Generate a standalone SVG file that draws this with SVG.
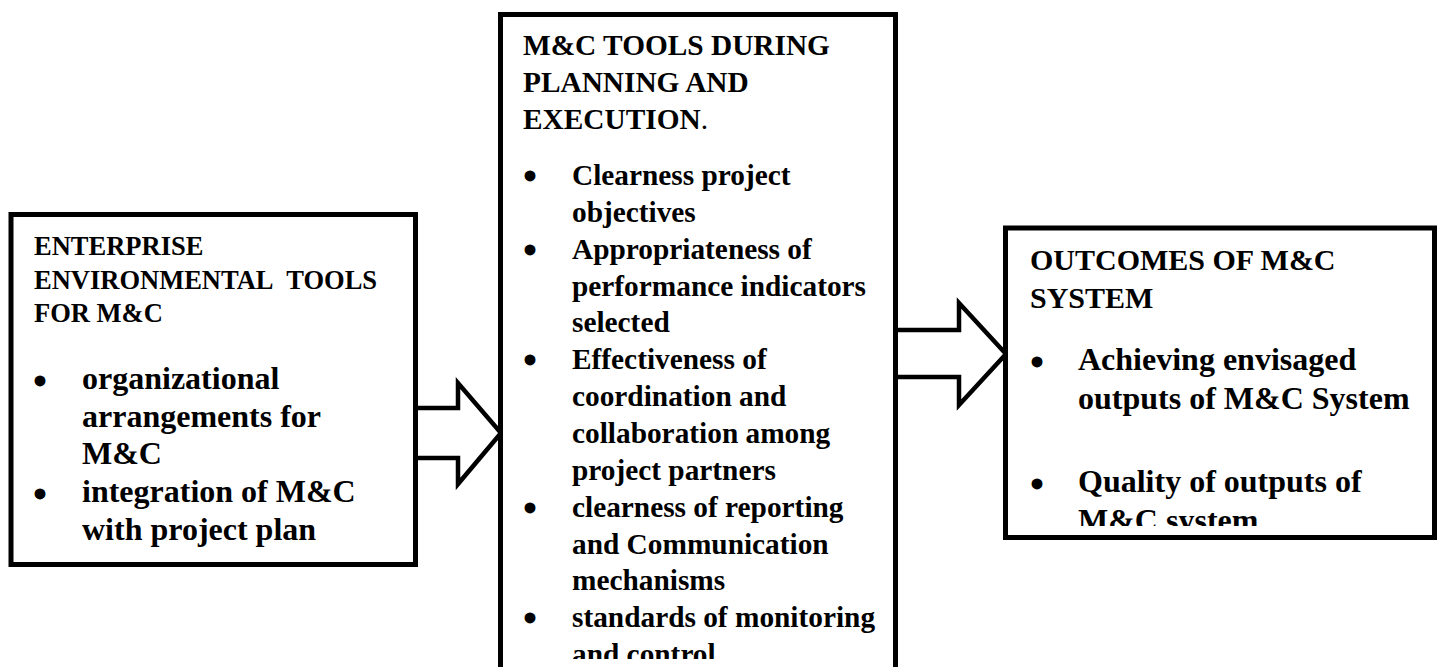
<svg xmlns="http://www.w3.org/2000/svg" width="1439" height="667" viewBox="0 0 1439 667">
<style>
.box{fill:#fff;stroke:#000;stroke-width:5}
.arr{fill:#fff;stroke:#000;stroke-width:4.5;stroke-linejoin:miter}
text{font-family:"Liberation Serif","Times New Roman",serif;font-weight:bold;fill:#000}
.h1{font-size:26.5px}
.h2{font-size:29.33px}
.h3{font-size:30px}
.b1{font-size:32px}
.b2{font-size:29.33px}
.dot{text-anchor:middle;font-size:40px}
</style>
<defs>
<clipPath id="clipMid"><rect x="500" y="14" width="396" height="645"/></clipPath>
<clipPath id="clipRight"><rect x="1005" y="228" width="430" height="298"/></clipPath>
</defs>
<rect width="1439" height="667" fill="#fff"/>
<g id="connectors">
<polygon class="arr" points="415.5,408 458,408 458,383 501,433 458,484 458,458 415.5,458"/>
<polygon class="arr" points="895.5,330 959,330 959,303 1006,354 959,405 959,377 895.5,377"/>
</g>
<g id="node-enterprise">
<rect class="box" x="11" y="214.5" width="404.5" height="350"/>
<text class="h1" x="34" y="255">ENTERPRISE</text>
<text class="h1" x="34" y="289">ENVIRONMENTAL&#160; TOOLS</text>
<text class="h1" x="34" y="322">FOR M&amp;C</text>
<text class="dot" x="40" y="395">•</text>
<text class="b1" x="82" y="389">organizational</text>
<text class="b1" x="82" y="427">arrangements for</text>
<text class="b1" x="82" y="464">M&amp;C</text>
<text class="dot" x="40" y="508">•</text>
<text class="b1" x="82" y="502">integration of M&amp;C</text>
<text class="b1" x="82" y="540">with project plan</text>
</g>
<g id="node-tools">
<rect class="box" x="500.5" y="14.5" width="395" height="700"/>
<g clip-path="url(#clipMid)">
<text class="h2" x="523" y="55">M&amp;C TOOLS DURING</text>
<text class="h2" x="523" y="92">PLANNING AND</text>
<text class="h2" x="523" y="129">EXECUTION<tspan font-weight="normal">.</tspan></text>
<text class="dot" x="530" y="190">•</text>
<text class="b2" x="572" y="185">Clearness project</text>
<text class="b2" x="572" y="221.9">objectives</text>
<text class="dot" x="530" y="263.7">•</text>
<text class="b2" x="572" y="258.7">Appropriateness of</text>
<text class="b2" x="572" y="295.6">performance indicators</text>
<text class="b2" x="572" y="332.4">selected</text>
<text class="dot" x="530" y="374.3">•</text>
<text class="b2" x="572" y="369.3">Effectiveness of</text>
<text class="b2" x="572" y="406.1">coordination and</text>
<text class="b2" x="572" y="443">collaboration among</text>
<text class="b2" x="572" y="479.8">project partners</text>
<text class="dot" x="530" y="521.7">•</text>
<text class="b2" x="572" y="516.7">clearness of reporting</text>
<text class="b2" x="572" y="553.5">and Communication</text>
<text class="b2" x="572" y="590.4">mechanisms</text>
<text class="dot" x="530" y="632.2">•</text>
<text class="b2" x="572" y="627.2">standards of monitoring</text>
<text class="b2" x="572" y="664.1">and control</text>
</g>
</g>
<g id="node-outcomes">
<rect class="box" x="1005.5" y="228" width="429" height="309.5"/>
<g clip-path="url(#clipRight)">
<text class="h3" x="1030" y="270">OUTCOMES OF M&amp;C</text>
<text class="h3" x="1030" y="308">SYSTEM</text>
<text class="dot" x="1037" y="376">•</text>
<text class="b1" x="1078" y="370">Achieving envisaged</text>
<text class="b1" x="1078" y="409">outputs of M&amp;C System</text>
<text class="dot" x="1037" y="498">•</text>
<text class="b1" x="1078" y="492">Quality of outputs of</text>
<text class="b1" x="1078" y="531">M&amp;C system</text>
</g>
</g>
</svg>
